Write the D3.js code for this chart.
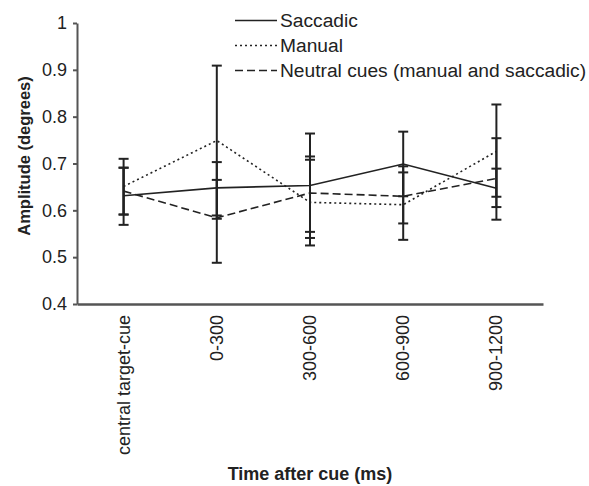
<!DOCTYPE html>
<html>
<head>
  <meta charset="utf-8">
  <title>Amplitude by time after cue</title>
  <script src="https://cdnjs.cloudflare.com/ajax/libs/d3/7.8.5/d3.min.js"></script>
  <style>
    body { margin: 0; background: #fff; }
    svg { font-family: "Liberation Sans", Arial, sans-serif; }
    .axis path, .axis line { stroke: #555; }
    .axis text { fill: #222; font-size: 18px; }
    .title { font-weight: bold; fill: #222; }
    .serie { fill: none; stroke: #222; stroke-width: 1.6px; }
    .err { stroke: #222; stroke-width: 2px; }
  </style>
</head>
<body>
  <svg width="589" height="486"></svg>
  <script>
    var categories = ["central target-cue", "0-300", "300-600", "600-900", "900-1200"];
    var yTicks = [0.4, 0.5, 0.6, 0.7, 0.8, 0.9, 1];

    // means and error bar ends
    var saccadic    = [0.631, 0.648, 0.653, 0.699, 0.647];
    var saccadicLo  = [0.569, 0.589, 0.541, 0.630, 0.607];
    var saccadicHi  = [0.691, 0.703, 0.764, 0.768, 0.689];

    var manual      = [0.651, 0.749, 0.617, 0.612, 0.726];
    var manualLo    = [0.591, 0.582, 0.525, 0.537, 0.629];
    var manualHi    = [0.710, 0.909, 0.708, 0.681, 0.826];

    var neutral     = [0.641, 0.584, 0.637, 0.630, 0.668];
    var neutralLo   = [0.591, 0.488, 0.554, 0.572, 0.580];
    var neutralHi   = [0.691, 0.665, 0.715, 0.694, 0.754];

    var series = [
      {name: "Saccadic", values: saccadic, lo: saccadicLo, hi: saccadicHi, dash: null, w: 1.6},
      {name: "Manual", values: manual, lo: manualLo, hi: manualHi, dash: "2,3", w: 1.9},
      {name: "Neutral cues (manual and saccadic)", values: neutral, lo: neutralLo, hi: neutralHi, dash: "8,4", w: 1.6}
    ];

    var svg = d3.select("svg");
    var plotL = 77, plotR = 543, plotT = 23, plotB = 304;

    var x = d3.scaleBand().domain(categories).range([plotL, plotR]);
    var y = d3.scaleLinear().domain([0.4, 1]).range([plotB, plotT]);
    var cx = c => x(c) + x.bandwidth() / 2;

    // y axis
    var ya = svg.append("g")
      .attr("class", "axis")
      .attr("transform", `translate(${plotL},0)`)
      .call(d3.axisLeft(y).tickValues(yTicks).tickSize(4).tickSizeOuter(0).tickPadding(6)
        .tickFormat(d => d === 1 ? "1" : d3.format(".1f")(d)));
    ya.select(".domain").attr("stroke-width", 2);
    ya.selectAll(".tick line").attr("stroke-width", 2);
    ya.selectAll("text").attr("font-family", "Liberation Sans, Arial, sans-serif").attr("font-size", 17.5);

    // x axis (no ticks, rotated labels)
    var xa = svg.append("g")
      .attr("class", "axis")
      .attr("transform", `translate(0,${plotB})`)
      .call(d3.axisBottom(x).tickSize(0).tickSizeOuter(0));
    xa.select(".domain").attr("stroke-width", 2.5);
    xa.selectAll(".tick text")
      .attr("font-family", "Liberation Sans, Arial, sans-serif")
      .attr("font-size", 18.4)
      .attr("text-anchor", "end")
      .attr("dy", null)
      .attr("y", 0)
      .attr("transform", "translate(6,11) rotate(-90)");

    // error bars
    series.forEach(s => {
      var g = svg.append("g");
      categories.forEach((c, i) => {
        g.append("line").attr("class", "err")
          .attr("x1", cx(c)).attr("x2", cx(c))
          .attr("y1", y(s.lo[i])).attr("y2", y(s.hi[i]));
        [s.lo[i], s.hi[i]].forEach(v => {
          g.append("line").attr("class", "err")
            .attr("x1", cx(c) - 5).attr("x2", cx(c) + 5)
            .attr("y1", y(v)).attr("y2", y(v));
        });
      });
    });

    // lines
    var line = d3.line().x((d, i) => cx(categories[i])).y(d => y(d));
    series.forEach(s => {
      svg.append("path")
        .datum(s.values)
        .attr("class", "serie")
        .attr("stroke-width", s.w)
        .attr("stroke-dasharray", s.dash)
        .attr("d", line);
    });

    // legend
    var lg = svg.append("g").attr("transform", "translate(235,20.5)");
    series.forEach((s, i) => {
      var row = lg.append("g").attr("transform", `translate(0,${i * 25})`);
      row.append("line").attr("class", "serie")
        .attr("x1", 0).attr("x2", 42)
        .attr("stroke-width", s.w)
        .attr("stroke-dasharray", s.dash);
      row.append("text")
        .attr("x", 45).attr("y", 6.8)
        .attr("font-size", 19.2)
        .attr("fill", "#222")
        .text(s.name);
    });

    // axis titles
    svg.append("text").attr("class", "title")
      .attr("transform", "translate(30,156) rotate(-90)")
      .attr("text-anchor", "middle")
      .attr("font-size", 16.5)
      .text("Amplitude (degrees)");

    svg.append("text").attr("class", "title")
      .attr("x", 310).attr("y", 480)
      .attr("text-anchor", "middle")
      .attr("font-size", 18)
      .text("Time after cue (ms)");
  </script>
</body>
</html>
